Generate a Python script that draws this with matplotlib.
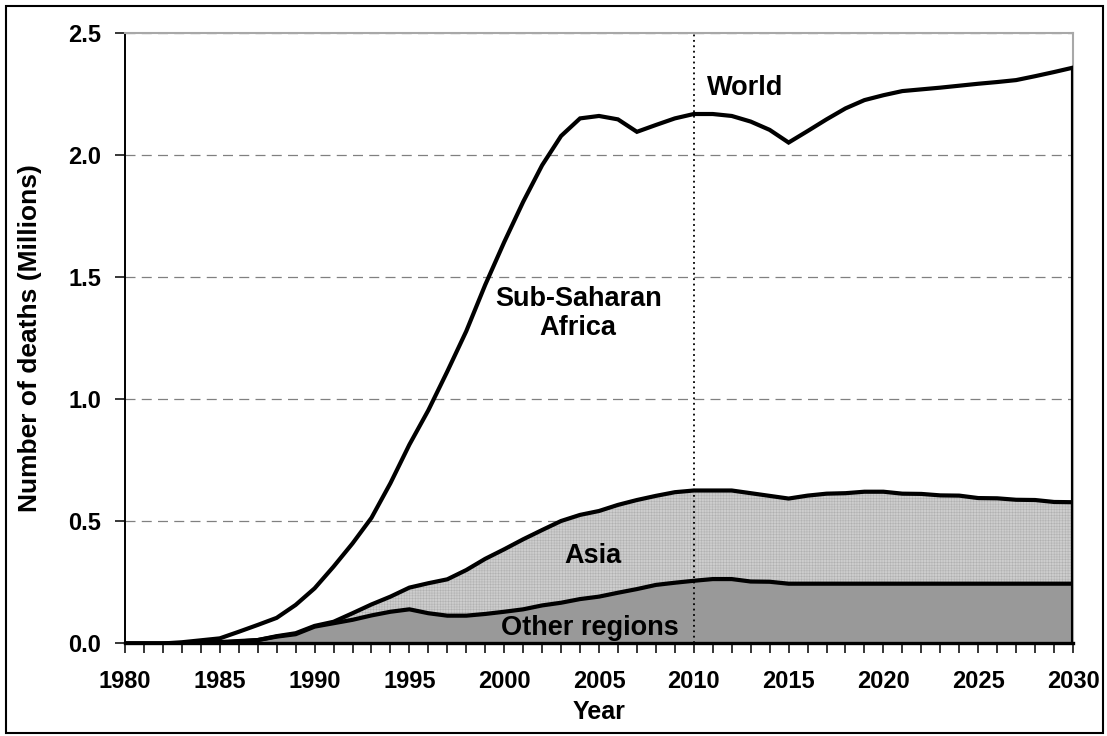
import numpy as np
import matplotlib

matplotlib.use("Agg")
import matplotlib.pyplot as plt
from matplotlib.patches import Rectangle

plt.rcParams["font.family"] = ["Liberation Sans", "DejaVu Sans"]
plt.rcParams["font.weight"] = "bold"
plt.rcParams["hatch.linewidth"] = 0.35

years = np.arange(1980, 2031)

# cumulative totals (millions of deaths): other regions, other + Asia, world
other = [
    0.0, 0.0, 0.0, 0.0, 0.002, 0.004, 0.008, 0.014, 0.028, 0.038,
    0.069, 0.083, 0.097, 0.115, 0.130, 0.140, 0.124, 0.114, 0.114, 0.121,
    0.130, 0.140, 0.156, 0.167, 0.182, 0.192, 0.208, 0.223, 0.240, 0.249,
    0.257, 0.264, 0.264, 0.254, 0.253, 0.245, 0.245, 0.245, 0.245, 0.245,
    0.245, 0.245, 0.245, 0.245, 0.245, 0.245, 0.245, 0.245, 0.245, 0.245,
    0.245,
]
other_asia = [
    0.0, 0.0, 0.0, 0.001, 0.003, 0.006, 0.010, 0.014, 0.030, 0.042,
    0.072, 0.089, 0.124, 0.160, 0.192, 0.229, 0.247, 0.263, 0.301, 0.347,
    0.386, 0.427, 0.465, 0.502, 0.527, 0.543, 0.568, 0.588, 0.605, 0.620,
    0.627, 0.627, 0.627, 0.616, 0.605, 0.594, 0.606, 0.614, 0.616, 0.622,
    0.622, 0.614, 0.613, 0.607, 0.606, 0.596, 0.595, 0.589, 0.588, 0.580,
    0.579,
]
world = [
    0.0, 0.0, 0.0, 0.005, 0.013, 0.021, 0.048, 0.076, 0.105, 0.158,
    0.226, 0.315, 0.410, 0.515, 0.657, 0.815, 0.956, 1.115, 1.280, 1.470,
    1.645, 1.810, 1.960, 2.080, 2.152, 2.162, 2.148, 2.097, 2.125, 2.152,
    2.170, 2.170, 2.162, 2.139, 2.105, 2.053, 2.100, 2.148, 2.193, 2.227,
    2.247, 2.264, 2.271, 2.278, 2.286, 2.294, 2.301, 2.309, 2.325, 2.342,
    2.360,
]

fig = plt.figure(figsize=(11.07, 7.36), dpi=100)
ax = fig.add_axes([0.1129, 0.1257, 0.8564, 0.8288])

ax.fill_between(years, 0, other, color="#999999", lw=0, zorder=2)
ax.fill_between(years, other, other_asia, facecolor="#cdcdcd",
                edgecolor="#b0b0b0", hatch="++++++", lw=0, zorder=2)

lw = 3.0
ax.plot(years, other, color="black", lw=lw, zorder=4, solid_capstyle="butt")
ax.plot(years, other_asia, color="black", lw=lw, zorder=4, solid_capstyle="butt")
ax.plot(years, world, color="black", lw=lw, zorder=4, solid_joinstyle="miter")
ax.vlines(years[-1], 0, world[-1], color="black", lw=lw, zorder=4)

ax.axvline(2010, color="black", lw=1.3, ls=(0, (1, 2)), zorder=3)

ax.set_xlim(1980, 2030)
ax.set_ylim(0, 2.5)
ax.set_xticks(np.arange(1980, 2031, 5))
ax.set_xticks(years, minor=True)
ax.set_yticks(np.arange(0, 2.51, 0.5))
ax.set_yticklabels([f"{v:.1f}" for v in np.arange(0, 2.51, 0.5)])
ax.grid(axis="y", color="#808080", lw=0.9, ls=(0, (8, 5)), zorder=1)

ax.tick_params(axis="both", which="both", direction="out", length=7,
               width=1.1, labelsize=17, color="black")
ax.tick_params(axis="x", pad=12)
ax.tick_params(axis="y", pad=10)

for side in ("top", "right"):
    ax.spines[side].set_color("#a8a8a8")
    ax.spines[side].set_linewidth(1.5)
ax.spines["left"].set_linewidth(1.4)
ax.spines["bottom"].set_linewidth(2.4)

ax.set_xlabel("Year", fontsize=18, fontweight="bold", va="center")
ax.xaxis.set_label_coords(0.5, -0.112)
ax.set_ylabel("Number of deaths (Millions)", fontsize=19, fontweight="bold",
              va="center")
ax.yaxis.set_label_coords(-0.1002, 0.5)

label_kw = dict(fontsize=19.5, fontweight="bold", ha="center", va="center",
                zorder=5)
ax.text(2012.7, 2.277, "World", **label_kw)
ax.text(2003.9, 1.354, "Sub-Saharan\nAfrica", linespacing=1.15, **label_kw)
ax.text(2004.7, 0.359, "Asia", **label_kw)
ax.text(2004.5, 0.064, "Other regions", **label_kw)

fig.patches.append(Rectangle((6 / 1107, 3 / 736), 1097 / 1107, 727 / 736,
                             transform=fig.transFigure, fill=False,
                             edgecolor="black", lw=1.5))

fig.savefig("out.png", dpi=100)
plt.close(fig)
